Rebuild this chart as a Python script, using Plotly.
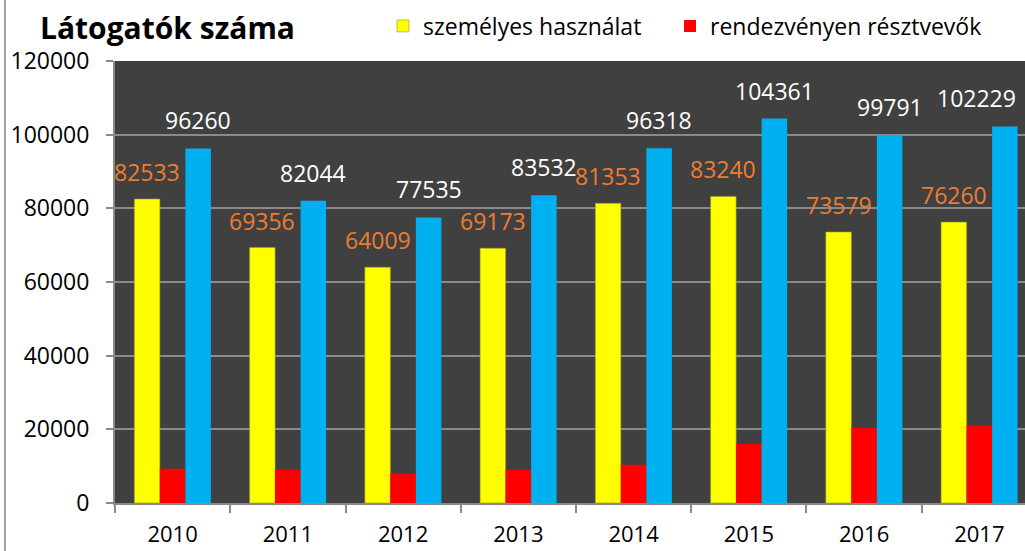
import plotly.graph_objects as go

years = ["2010", "2011", "2012", "2013", "2014", "2015", "2016", "2017"]
szemelyes = [82533, 69356, 64009, 69173, 81353, 83240, 73579, 76260]
rendezveny = [9300, 9050, 7950, 9050, 10400, 16000, 20450, 21000]
osszes = [96260, 82044, 77535, 83532, 96318, 104361, 99791, 102229]
y_ticks = [0, 20000, 40000, 60000, 80000, 100000, 120000]

FONT = "'Open Sans', sans-serif"
GRID = "#8a8a8a"
W, H = 1025, 551
ML, MR, MT, MB = 115, 0, 61, 48
PW, PH = W - ML - MR, H - MT - MB
FS = 23

fig = go.Figure()
fig.add_trace(go.Bar(x=years, y=szemelyes, name="személyes használat", legend="legend",
                     marker=dict(color="#FFFF00", line=dict(color="#9a9a30", width=0.6))))
fig.add_trace(go.Bar(x=years, y=rendezveny, name="rendezvényen résztvevők", legend="legend2",
                     marker=dict(color="#FF0000", line=dict(width=0))))
fig.add_trace(go.Bar(x=years, y=osszes, name="összesen", showlegend=False,
                     marker=dict(color="#00B0F0", line=dict(width=0))))

annotations = []
for i, v in enumerate(szemelyes):
    annotations.append(dict(x=i, y=v, xref="x", yref="y", text=str(v), showarrow=False,
                            xshift=-25.5, yshift=27, yanchor="middle", xanchor="center",
                            font=dict(family=FONT, size=FS, color="#ED7D31")))
for i, v in enumerate(osszes):
    last = i == len(osszes) - 1
    annotations.append(dict(x=i, y=v, xref="x", yref="y", text=str(v), showarrow=False,
                            xshift=38.5 if last else 25.5, yshift=28, yanchor="middle",
                            xanchor="right" if last else "center",
                            font=dict(family=FONT, size=FS, color="#FFFFFF")))
annotations.append(dict(x=(38 - ML) / PW, y=1 + (MT - 27) / PH, xref="paper", yref="paper",
                        text="<b>Látogatók száma</b>", showarrow=False,
                        xanchor="left", yanchor="middle",
                        font=dict(family=FONT, size=30, color="#000000")))

legend_common = dict(orientation="h", xanchor="left", yanchor="middle",
                     y=1 + (MT - 26) / PH,
                     font=dict(family=FONT, size=FS, color="#000000"),
                     itemwidth=30, bgcolor="rgba(0,0,0,0)")

fig.update_layout(
    width=W, height=H,
    margin=dict(l=ML, r=MR, t=MT, b=MB, autoexpand=False),
    paper_bgcolor="#FFFFFF", plot_bgcolor="#404040",
    barmode="group", bargap=0.336, bargroupgap=0,
    font=dict(family=FONT, size=FS, color="#000000"),
    showlegend=True,
    legend=dict(x=(383 - ML) / PW, **legend_common),
    legend2=dict(x=(670 - ML) / PW, **legend_common),
    annotations=annotations,
)

fig.update_xaxes(type="category", range=[-0.5, 7.396], showgrid=False,
                 showline=True, linecolor=GRID, linewidth=2,
                 ticks="outside", tickson="boundaries", ticklen=8, tickcolor=GRID, tickwidth=2,
                 ticklabelstandoff=11, tickfont=dict(family=FONT, size=22, color="#000000"))
fig.update_yaxes(range=[0, 120000], tickvals=y_ticks, ticktext=[str(t) for t in y_ticks],
                 showgrid=True, gridcolor=GRID, gridwidth=2, zeroline=False,
                 showline=True, linecolor=GRID, linewidth=2,
                 ticks="outside", ticklen=7, tickcolor=GRID, tickwidth=2,
                 ticklabelstandoff=12, tickfont=dict(family=FONT, size=FS, color="#000000"))

fig.add_shape(type="line", xref="paper", yref="paper",
              x0=(5 - ML) / PW, x1=(5 - ML) / PW, y0=-MB / PH, y1=1 + MT / PH,
              line=dict(color="#a0a0a0", width=2))

fig.write_html("out.html", config={"displayModeBar": False},
               post_script="document.body.style.margin='0';document.body.style.padding='0';")
